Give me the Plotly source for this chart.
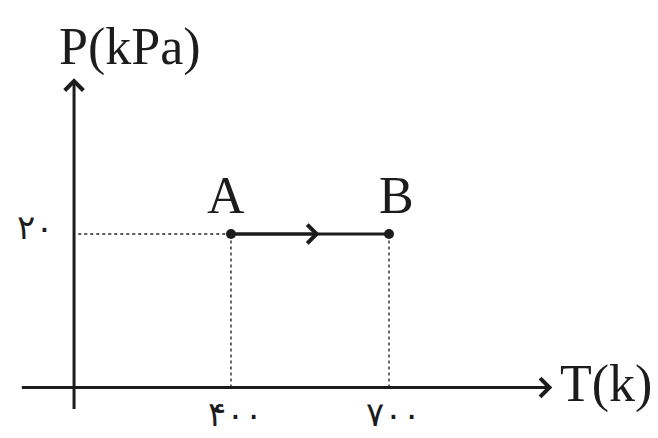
import plotly.graph_objects as go

# isobaric process A -> B on a P-T diagram (schematic, axes not to scale)
T_states = [400, 700]
P_states = [20, 20]
state_names = ["A", "B"]
T_ticktext = ["۴۰۰", "۷۰۰"]
P_tickvals = [20]
P_ticktext = ["۲۰"]

T_range = [-38.6, 1210.7]
P_range = [-6.58, 50.49]
T_axis_at = 102          # T value where the P axis is drawn
T_axis_end = 1010
P_axis_end = 40.3

ink = "#1c1c1c"
guide = "#5a5a5a"
serif = "Liberation Serif, Times New Roman, serif"
digits = "DejaVu Sans, sans-serif"

fig = go.Figure()

# dotted guide lines from the states to the axes
fig.add_trace(go.Scatter(
    x=[T_axis_at + 8, T_states[0]], y=[P_states[0], P_states[0]],
    mode="lines", line=dict(color=guide, width=1.8, dash="dot"), hoverinfo="skip"))
for t, p in zip(T_states, P_states):
    fig.add_trace(go.Scatter(
        x=[t, t], y=[0, p], mode="lines",
        line=dict(color=guide, width=1.8, dash="dot"), hoverinfo="skip"))

# process line with end points
fig.add_trace(go.Scatter(
    x=T_states, y=P_states, mode="lines+markers",
    line=dict(color=ink, width=3), marker=dict(color=ink, size=10)))

ann = []
arrow = dict(showarrow=True, text="", arrowhead=4, arrowwidth=3, arrowsize=1.2,
             arrowcolor=ink, axref="x", ayref="y", xref="x", yref="y", standoff=0)
# T axis
ann.append(dict(arrow, x=T_axis_end, y=0, ax=0, ay=0))
# P axis
ann.append(dict(arrow, x=T_axis_at, y=P_axis_end, ax=T_axis_at, ay=-3))
# direction of the process
mid_tip = T_states[0] + 0.56 * (T_states[1] - T_states[0])
ann.append(dict(arrow, x=mid_tip, y=P_states[0], ax=T_states[0], ay=P_states[0]))

# axis titles
ann.append(dict(x=208, y=44.4, xref="x", yref="y", text="P(kPa)", showarrow=False,
                font=dict(family=serif, size=52, color=ink)))
ann.append(dict(x=1112, y=0.5, xref="x", yref="y", text="T(k)", showarrow=False,
                font=dict(family=serif, size=52, color=ink)))

# state labels
offsets = [-10, 15]
for t, p, name, dx in zip(T_states, P_states, state_names, offsets):
    ann.append(dict(x=t + dx, y=p + 5, xref="x", yref="y", text=name, showarrow=False,
                    font=dict(family=serif, size=52, color=ink)))

# tick labels
for t, lab in zip(T_states, T_ticktext):
    ann.append(dict(x=t + 8, y=-3.4, xref="x", yref="y", text=lab, showarrow=False,
                    font=dict(family=digits, size=34, color=ink)))
for p, lab in zip(P_tickvals, P_ticktext):
    ann.append(dict(x=28, y=p + 0.9, xref="x", yref="y", text=lab, showarrow=False,
                    font=dict(family=digits, size=34, color=ink)))

fig.update_layout(
    width=658, height=438, autosize=False,
    margin=dict(l=0, r=0, t=0, b=0, pad=0),
    paper_bgcolor="white", plot_bgcolor="white",
    showlegend=False, annotations=ann,
    xaxis=dict(range=T_range, visible=False, fixedrange=True),
    yaxis=dict(range=P_range, visible=False, fixedrange=True),
)

fig.write_html("out.html")
